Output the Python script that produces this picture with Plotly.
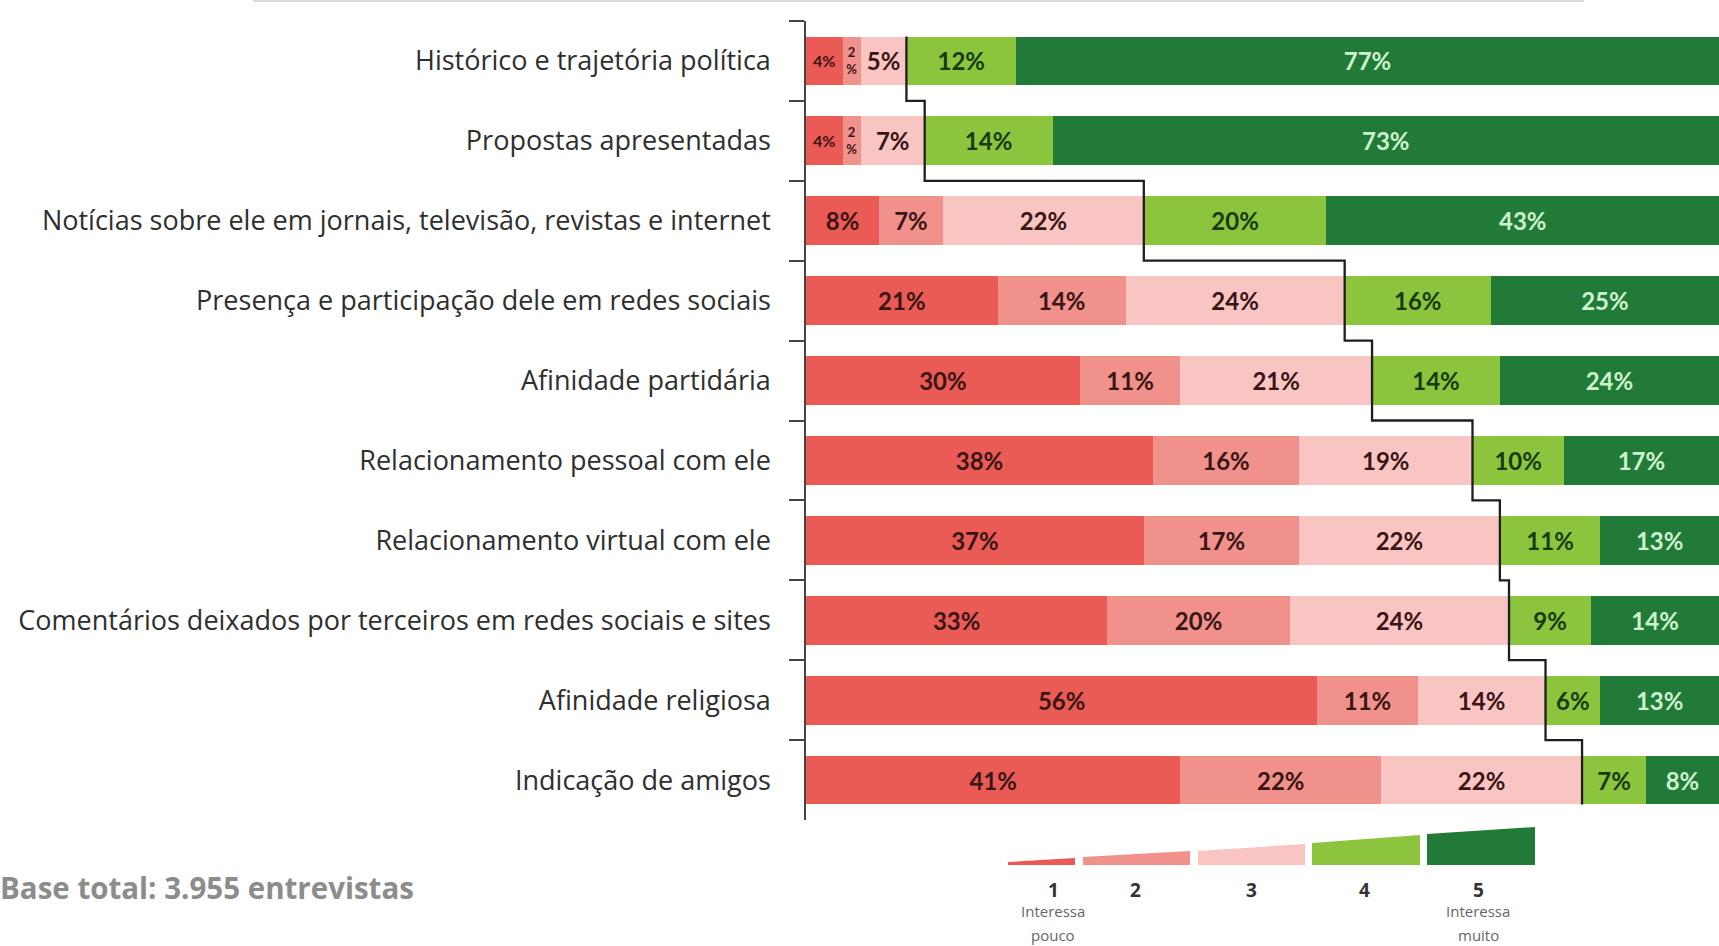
import plotly.graph_objects as go

# ---------------- data ----------------
categories = [
    "Histórico e trajetória política",
    "Propostas apresentadas",
    "Notícias sobre ele em jornais, televisão, revistas e internet",
    "Presença e participação dele em redes sociais",
    "Afinidade partidária",
    "Relacionamento pessoal com ele",
    "Relacionamento virtual com ele",
    "Comentários deixados por terceiros em redes sociais e sites",
    "Afinidade religiosa",
    "Indicação de amigos",
]
level1 = [4, 4, 8, 21, 30, 38, 37, 33, 56, 41]
level2 = [2, 2, 7, 14, 11, 16, 17, 20, 11, 22]
level3 = [5, 7, 22, 24, 21, 19, 22, 24, 14, 22]
level4 = [12, 14, 20, 16, 14, 10, 11, 9, 6, 7]
level5 = [77, 73, 43, 25, 24, 17, 13, 14, 13, 8]

scale_labels = ["1", "2", "3", "4", "5"]
scale_low = ["Interessa", "pouco"]
scale_high = ["Interessa", "muito"]
base_note = "Base total: 3.955 entrevistas"

# ---------------- style ----------------
colors = ["#EA5B55", "#F0918B", "#F8C5C3", "#8CC43D", "#227A38"]
text_colors = ["#3a1515", "#3a1515", "#3a1515", "#173a10", "#cdf3cd"]
FONT = "Lato"
LABEL_FONT = "Open Sans"
W, H = 1719, 946
ML, MR, MT, MB = 806, 0, 21, 126
PW, PH = W - ML - MR, H - MT - MB
BAR_W = 0.61


def px(x):
    return (x - ML) / PW


def py(y):
    return (H - MB - y) / PH


def label_text(v):
    return f"{v}<br>%" if v <= 2 else f"{v}%"


def label_size(v):
    if v <= 2:
        return 13
    if v <= 4:
        return 16
    return 24


series = [level1, level2, level3, level4, level5]

fig = go.Figure()
for i, vals in enumerate(series):
    fig.add_trace(go.Bar(
        y=categories,
        x=vals,
        orientation="h",
        marker=dict(color=colors[i], line=dict(width=0)),
        width=BAR_W,
        text=[label_text(v) for v in vals],
        textposition="inside",
        insidetextanchor="middle",
        textangle=0,
        insidetextfont=dict(family=FONT, color=text_colors[i],
                            size=[label_size(v) for v in vals], weight=700),
        hoverinfo="skip",
        showlegend=False,
    ))

# step line along the boundary between level 3 and level 4
boundary = [a + b + c for a, b, c in zip(level1, level2, level3)]
sx, sy = [], []
n = len(boundary)
for i, b in enumerate(boundary):
    top = i - BAR_W / 2 if i == 0 else i - 0.5
    bottom = i + BAR_W / 2 if i == n - 1 else i + 0.5
    sx += [b, b]
    sy += [top, bottom]
fig.add_trace(go.Scatter(
    x=sx, y=sy, yaxis="y2", mode="lines",
    line=dict(color="#1e1e1e", width=2.3),
    hoverinfo="skip", showlegend=False,
))

fig.update_layout(
    width=W, height=H,
    margin=dict(l=ML, r=MR, t=MT, b=MB),
    barmode="stack",
    plot_bgcolor="white",
    paper_bgcolor="white",
    font=dict(family=FONT, color="#333333"),
    xaxis=dict(range=[0, 100], visible=False, fixedrange=True),
    yaxis=dict(
        type="category",
        range=[len(categories) - 0.5, -0.5],
        showline=True, linecolor="#444444", linewidth=1.5,
        ticks="outside", tickson="boundaries", ticklen=15,
        tickcolor="#444444", tickwidth=1.5,
        tickfont=dict(family=LABEL_FONT, size=27, color="#2e2e2e"),
        ticklabelstandoff=28,
        showgrid=False, zeroline=False,
    ),
    yaxis2=dict(
        overlaying="y", range=[len(categories) - 0.5, -0.5],
        visible=False, showgrid=False, zeroline=False,
    ),
)

# faint separator line at the top of the page
fig.add_shape(type="line", xref="paper", yref="paper",
              x0=px(253), x1=px(1584), y0=py(1), y1=py(1),
              line=dict(color="#dddddd", width=2))

# scale legend: wedges growing in height
wedges = [
    (1008, 1075, 862, 858),
    (1083, 1190, 857, 851),
    (1198, 1305, 851, 844),
    (1312, 1420, 843, 835),
    (1427, 1535, 834, 827),
]
wedge_bottom = 865
for (x0, x1, ytl, ytr), c in zip(wedges, colors):
    path = (f"M {px(x0)},{py(wedge_bottom)} L {px(x0)},{py(ytl)} "
            f"L {px(x1)},{py(ytr)} L {px(x1)},{py(wedge_bottom)} Z")
    fig.add_shape(type="path", xref="paper", yref="paper", path=path,
                  fillcolor=c, line=dict(width=0))

num_x = [1053, 1135, 1251, 1364, 1478]
for lab, xx in zip(scale_labels, num_x):
    fig.add_annotation(xref="paper", yref="paper", x=px(xx), y=py(890),
                       text=f"<b>{lab}</b>", showarrow=False,
                       xanchor="center", yanchor="middle",
                       font=dict(family=LABEL_FONT, size=19, color="#333333"))
for lines, xx in [(scale_low, num_x[0]), (scale_high, num_x[-1])]:
    for line_txt, yy in zip(lines, [911, 935]):
        fig.add_annotation(xref="paper", yref="paper", x=px(xx), y=py(yy),
                           text=line_txt, showarrow=False,
                           xanchor="center", yanchor="middle",
                           font=dict(family=LABEL_FONT, size=15, color="#666666"))

fig.add_annotation(xref="paper", yref="paper", x=px(-2), y=py(888),
                   text=f"<b>{base_note}</b>", showarrow=False,
                   xanchor="left", yanchor="middle",
                   font=dict(family=LABEL_FONT, size=29.5, color="#8c8c8c"))

fig.write_html("out.html", config={"displayModeBar": False},
               post_script="document.body.style.margin='0px';"
                           "document.body.style.overflow='hidden';")
